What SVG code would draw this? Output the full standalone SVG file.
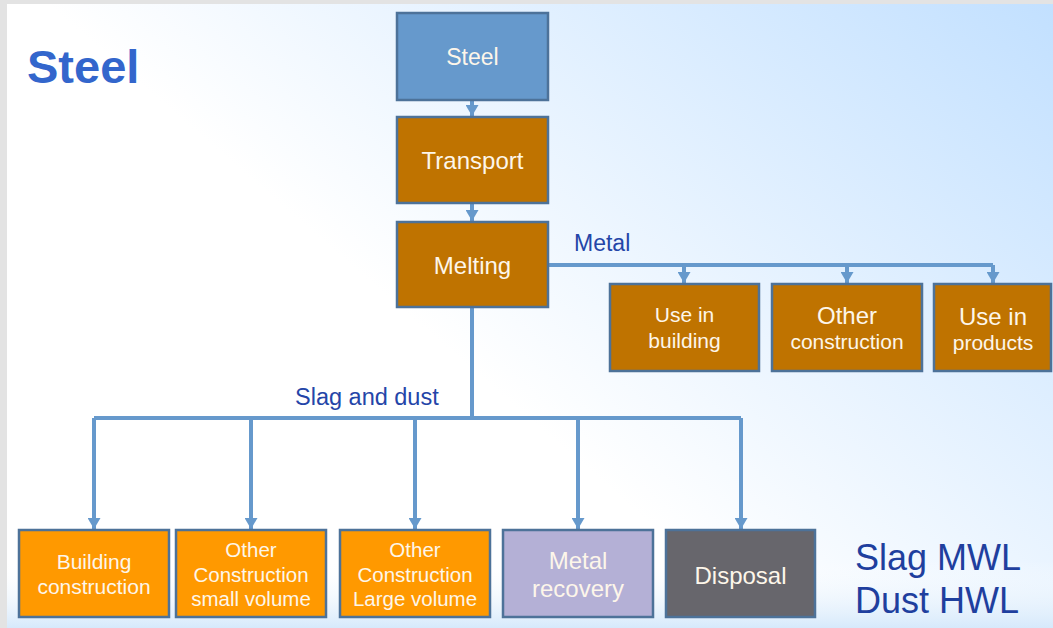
<svg xmlns="http://www.w3.org/2000/svg" width="1053" height="628" viewBox="0 0 1053 628">
  <defs>
    <linearGradient id="bgTop" x1="0.35" y1="0.45" x2="1" y2="0">
      <stop offset="0" stop-color="#ffffff"/>
      <stop offset="1" stop-color="#c2e0ff"/>
    </linearGradient>
    <linearGradient id="bgBottom" x1="0" y1="0" x2="0" y2="1">
      <stop offset="0" stop-color="#ffffff" stop-opacity="0"/>
      <stop offset="1" stop-color="#d6e9fb"/>
    </linearGradient>
    <!-- arrowhead drawn along +x so orient="auto" points it down the line -->
    <marker id="arrow" viewBox="0 0 11 13" refX="11" refY="6.5" markerWidth="11" markerHeight="13" markerUnits="userSpaceOnUse" orient="auto">
      <path d="M0,0 L11,6.5 L0,13 Z" fill="#6699cc"/>
    </marker>
  </defs>
  <style>
    .box { stroke: #4d7299; stroke-width: 2.5; }
    .steel { fill: #6699cc; }
    .brown { fill: #bf7300; }
    .orange { fill: #ff9900; }
    .lilac { fill: #b4b0d6; }
    .grey { fill: #67666c; }
    .lbl { font-family: "Liberation Sans", Arial, sans-serif; fill: #fdf6ea; text-anchor: middle; }
    .conn { fill: none; stroke: #6699cc; stroke-width: 4; }
    .edge { font-family: "Liberation Sans", Arial, sans-serif; fill: #2445a8; }
  </style>

  <!-- slide background -->
  <rect x="0" y="0" width="1053" height="628" fill="#e3e3e3"/>
  <rect x="7" y="4" width="1046" height="624" fill="url(#bgTop)"/>
  <rect x="7" y="560" width="1046" height="68" fill="url(#bgBottom)"/>

  <text x="27" y="83" font-family="Liberation Sans, Arial, sans-serif" font-weight="bold" font-size="47" fill="#3366cc">Steel</text>

  <!-- connectors -->
  <g id="connectors">
    <line class="conn" x1="472" y1="100" x2="472" y2="116" marker-end="url(#arrow)"/>
    <line class="conn" x1="472" y1="203" x2="472" y2="221" marker-end="url(#arrow)"/>
    <path class="conn" d="M548,265 H993"/>
    <line class="conn" x1="684" y1="265" x2="684" y2="283" marker-end="url(#arrow)"/>
    <line class="conn" x1="847" y1="265" x2="847" y2="283" marker-end="url(#arrow)"/>
    <line class="conn" x1="993" y1="265" x2="993" y2="283" marker-end="url(#arrow)"/>
    <path class="conn" d="M472,307 V418 M94,418 H741"/>
    <line class="conn" x1="94" y1="418" x2="94" y2="529" marker-end="url(#arrow)"/>
    <line class="conn" x1="251" y1="418" x2="251" y2="529" marker-end="url(#arrow)"/>
    <line class="conn" x1="415" y1="418" x2="415" y2="529" marker-end="url(#arrow)"/>
    <line class="conn" x1="578" y1="418" x2="578" y2="529" marker-end="url(#arrow)"/>
    <line class="conn" x1="741" y1="418" x2="741" y2="529" marker-end="url(#arrow)"/>
    <text class="edge" x="574" y="251" font-size="23">Metal</text>
    <text class="edge" x="295" y="405" font-size="23.5">Slag and dust</text>
  </g>

  <g id="n-steel">
    <rect class="box steel" x="397" y="13" width="151" height="87"/>
    <text class="lbl" x="472.5" y="65" font-size="23">Steel</text>
  </g>
  <g id="n-transport">
    <rect class="box brown" x="397" y="117" width="151" height="86"/>
    <text class="lbl" x="472.5" y="169" font-size="24">Transport</text>
  </g>
  <g id="n-melting">
    <rect class="box brown" x="397" y="222" width="151" height="85"/>
    <text class="lbl" x="472.5" y="274" font-size="24">Melting</text>
  </g>

  <g id="n-use-building">
    <rect class="box brown" x="610" y="284" width="149" height="87"/>
    <text class="lbl" x="684.5" y="322" font-size="21">Use in</text>
    <text class="lbl" x="684.5" y="348" font-size="21">building</text>
  </g>
  <g id="n-other-construction">
    <rect class="box brown" x="772" y="284" width="150" height="87"/>
    <text class="lbl" x="847" y="324" font-size="24">Other</text>
    <text class="lbl" x="847" y="349" font-size="21">construction</text>
  </g>
  <g id="n-use-products">
    <rect class="box brown" x="934" y="284" width="117" height="87"/>
    <text class="lbl" x="993" y="325" font-size="24">Use in</text>
    <text class="lbl" x="993" y="350" font-size="21">products</text>
  </g>

  <g id="n-building-construction">
    <rect class="box orange" x="19" y="530" width="150" height="87"/>
    <text class="lbl" x="94" y="569" font-size="21">Building</text>
    <text class="lbl" x="94" y="594" font-size="21">construction</text>
  </g>
  <g id="n-small-volume">
    <rect class="box orange" x="176" y="530" width="150" height="87"/>
    <text class="lbl" x="251" y="557" font-size="20.5">Other</text>
    <text class="lbl" x="251" y="582" font-size="20.5">Construction</text>
    <text class="lbl" x="251" y="606" font-size="20.5">small volume</text>
  </g>
  <g id="n-large-volume">
    <rect class="box orange" x="340" y="530" width="150" height="87"/>
    <text class="lbl" x="415" y="557" font-size="20.5">Other</text>
    <text class="lbl" x="415" y="582" font-size="20.5">Construction</text>
    <text class="lbl" x="415" y="606" font-size="20.5">Large volume</text>
  </g>
  <g id="n-metal-recovery">
    <rect class="box lilac" x="503" y="530" width="150" height="87"/>
    <text class="lbl" x="578" y="569" font-size="24">Metal</text>
    <text class="lbl" x="578" y="597" font-size="24">recovery</text>
  </g>
  <g id="n-disposal">
    <rect class="box grey" x="666" y="530" width="149" height="87"/>
    <text class="lbl" x="740.5" y="584" font-size="24">Disposal</text>
  </g>

  <text x="855" y="570" font-family="Liberation Sans, Arial, sans-serif" font-size="36" fill="#1f3f9e">Slag MWL</text>
  <text x="855" y="613" font-family="Liberation Sans, Arial, sans-serif" font-size="36" fill="#1f3f9e">Dust HWL</text>
</svg>
